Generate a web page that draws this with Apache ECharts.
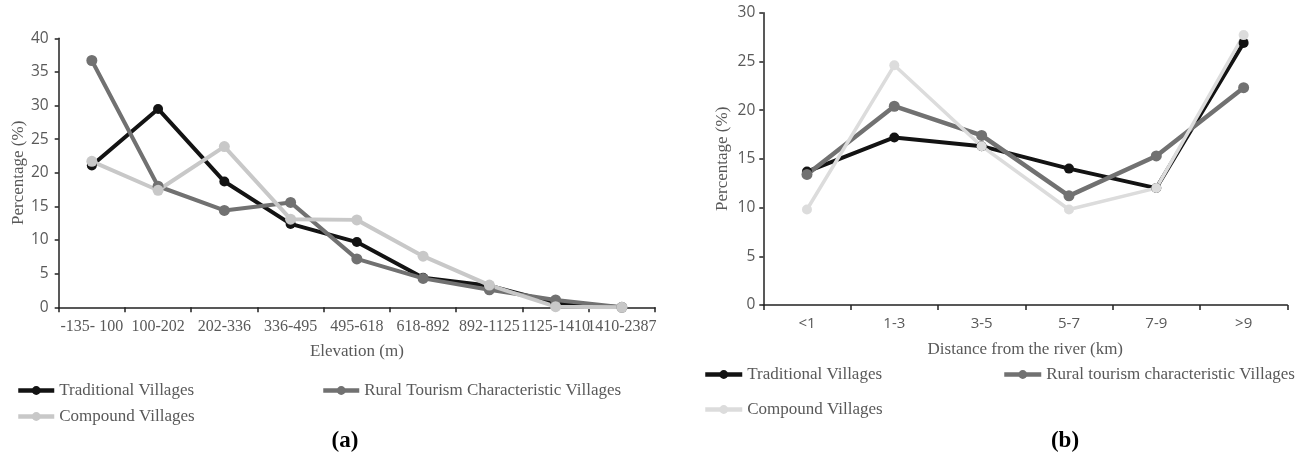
<!DOCTYPE html>
<html>
<head>
<meta charset="utf-8">
<script src="https://cdn.jsdelivr.net/npm/echarts@6/dist/echarts.min.js"></script>
<style>
html,body{margin:0;padding:0;background:#fff;}
#chart{width:1309px;height:458px;}
</style>
</head>
<body>
<div id="chart"></div>
<script>
// ---- data ----
var elevationCategories = ['-135- 100','100-202','202-336','336-495','495-618','618-892','892-1125','1125-1410','1410-2387'];
var elevTraditional = [21.1, 29.5, 18.7, 12.4, 9.7, 4.4, 3.2, 0.6, 0];
var elevRural       = [36.7, 18.0, 14.4, 15.6, 7.2, 4.3, 2.6, 1.1, 0];
var elevCompound    = [21.7, 17.4, 23.9, 13.1, 13.0, 7.6, 3.3, 0.1, 0];

var riverCategories = ['<1','1-3','3-5','5-7','7-9','>9'];
var riverTraditional = [13.7, 17.2, 16.3, 14.0, 12.0, 26.9];
var riverRural       = [13.4, 20.4, 17.4, 11.2, 15.3, 22.3];
var riverCompound    = [9.8, 24.6, 16.3, 9.8, 12.0, 27.7];

var yTicksLeft = {min: 0, max: 40, interval: 5};
var yTicksRight = {min: 0, max: 30, interval: 5};

// ---- style ----
var TXT = '#595959';
var SERIF = '"Liberation Serif", "DejaVu Serif", serif';
var SANS = '"Open Sans", "Noto Sans", sans-serif';
var C_TRAD = '#131313', C_RURAL = '#717171', C_COMP_A = '#c8c8c8', C_COMP_B = '#dcdcdc';

var chart = echarts.init(document.getElementById('chart'), null, {renderer: 'canvas'});

function xAxisCfg(gridIndex, data, name, labelFont, labelSize) {
  return {
    type: 'category', gridIndex: gridIndex, data: data, boundaryGap: true,
    name: name, nameLocation: 'middle', nameGap: 36,
    nameTextStyle: {color: TXT, fontFamily: SERIF, fontSize: 17},
    axisLine: {show: true, lineStyle: {color: '#222', width: 1.5}},
    axisTick: {show: true, length: 5, lineStyle: {color: '#222', width: 1.5}},
    axisLabel: {interval: 0, hideOverlap: false, color: TXT, fontFamily: labelFont, fontSize: labelSize, margin: 11},
    splitLine: {show: false}
  };
}
function yAxisCfg(gridIndex, t, margin) {
  return {
    type: 'value', gridIndex: gridIndex, min: t.min, max: t.max, interval: t.interval,
    name: 'Percentage (%)', nameLocation: 'middle', nameGap: 32,
    nameTextStyle: {color: TXT, fontFamily: SERIF, fontSize: 17},
    axisLine: {show: true, lineStyle: {color: '#222', width: 1.5}},
    axisTick: {show: true, length: 4, lineStyle: {color: '#222', width: 1.5}},
    axisLabel: {color: TXT, fontFamily: SANS, fontSize: 15.5, margin: margin},
    splitLine: {show: false}
  };
}
function lineSeries(name, xi, data, color, width, size) {
  return {
    name: name, type: 'line', xAxisIndex: xi, yAxisIndex: xi, data: data,
    symbol: 'circle', symbolSize: size, showSymbol: true,
    lineStyle: {color: color, width: width},
    itemStyle: {color: color},
    emphasis: {disabled: true}, animation: false
  };
}
function legendCfg(name, left, top, color, iw) {
  return {
    left: left, top: top, padding: 0, itemWidth: iw, itemHeight: 11, itemGap: 5,
    selectedMode: false,
    data: [{name: name, itemStyle: {color: color}, lineStyle: {color: color, width: 4.5}}],
    textStyle: {color: TXT, fontFamily: SERIF, fontSize: 17, padding: [0, 0, 0, 0]}
  };
}

chart.setOption({
  backgroundColor: '#ffffff',
  animation: false,
  grid: [
    {left: 58.7, top: 38.3, width: 596.3, height: 269},
    {left: 763.3, top: 12.7, width: 524, height: 292.3}
  ],
  xAxis: [
    xAxisCfg(0, elevationCategories, 'Elevation (m)', SERIF, 16),
    xAxisCfg(1, riverCategories, 'Distance from the river (km)', SANS, 15)
  ],
  yAxis: [
    yAxisCfg(0, yTicksLeft, 10),
    yAxisCfg(1, yTicksRight, 8)
  ],
  legend: [
    legendCfg('Traditional Villages', 16, 382, C_TRAD, 36),
    legendCfg('Rural Tourism Characteristic Villages', 321, 382, C_RURAL, 36),
    legendCfg('Compound Villages', 16, 408, C_COMP_A, 36),
    legendCfg('Traditional Villages', 703, 366, C_TRAD, 37),
    legendCfg('Rural tourism characteristic Villages', 1002, 366, C_RURAL, 37),
    legendCfg('Compound Villages', 703, 401, C_COMP_B, 37)
  ],
  series: [
    lineSeries('Traditional Villages', 0, elevTraditional, C_TRAD, 4, 10),
    lineSeries('Rural Tourism Characteristic Villages', 0, elevRural, C_RURAL, 4, 11),
    lineSeries('Compound Villages', 0, elevCompound, C_COMP_A, 4, 11),
    lineSeries('Traditional Villages', 1, riverTraditional, C_TRAD, 4, 10),
    lineSeries('Rural tourism characteristic Villages', 1, riverRural, C_RURAL, 4.5, 11),
    lineSeries('Compound Villages', 1, riverCompound, C_COMP_B, 3.5, 10)
  ],
  graphic: [
    {type: 'text', x: 345, y: 441, style: {text: '(a)', fill: '#000', font: 'bold 23px ' + SERIF, textAlign: 'center', textVerticalAlign: 'middle'}},
    {type: 'text', x: 1065, y: 441, style: {text: '(b)', fill: '#000', font: 'bold 23px ' + SERIF, textAlign: 'center', textVerticalAlign: 'middle'}}
  ]
});
</script>
</body>
</html>
